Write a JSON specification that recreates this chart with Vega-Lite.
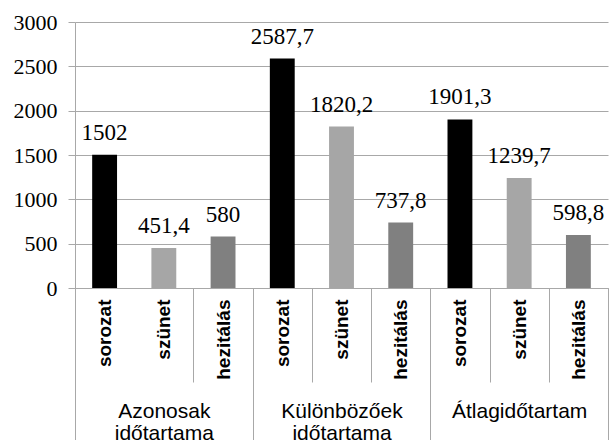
{
  "$schema": "https://vega.github.io/schema/vega-lite/v6.json",
  "width": 533,
  "height": 266,
  "autosize": {"type": "none"},
  "padding": {"left": 75, "top": 22, "right": 2, "bottom": 152},
  "config": {
    "view": {"stroke": null},
    "locale": {"number": {"decimal": ",", "thousands": "", "grouping": [3], "currency": ["", ""]}}
  },
  "data": {
    "values": [
      {"group": "Azonosak időtartama", "sub": "sorozat", "key": "Azonosak időtartama|sorozat", "value": 1502},
      {"group": "Azonosak időtartama", "sub": "szünet", "key": "Azonosak időtartama|szünet", "value": 451.4},
      {"group": "Azonosak időtartama", "sub": "hezitálás", "key": "Azonosak időtartama|hezitálás", "value": 580},
      {"group": "Különbözőek időtartama", "sub": "sorozat", "key": "Különbözőek időtartama|sorozat", "value": 2587.7},
      {"group": "Különbözőek időtartama", "sub": "szünet", "key": "Különbözőek időtartama|szünet", "value": 1820.2},
      {"group": "Különbözőek időtartama", "sub": "hezitálás", "key": "Különbözőek időtartama|hezitálás", "value": 737.8},
      {"group": "Átlagidőtartam", "sub": "sorozat", "key": "Átlagidőtartam|sorozat", "value": 1901.3},
      {"group": "Átlagidőtartam", "sub": "szünet", "key": "Átlagidőtartam|szünet", "value": 1239.7},
      {"group": "Átlagidőtartam", "sub": "hezitálás", "key": "Átlagidőtartam|hezitálás", "value": 598.8}
    ]
  },
  "layer": [
    {
      "encoding": {
        "x": {
          "field": "key", "type": "nominal", "sort": null,
          "scale": {"paddingInner": 0, "paddingOuter": 0},
          "axis": {
            "title": null, "orient": "bottom", "tickBand": "extent", "tickSize": 94,
            "tickColor": "#a8a8a8", "domainColor": "#a8a8a8", "grid": false,
            "tickOpacity": {"condition": {"test": "datum.value === 'Azonosak időtartama|sorozat'", "value": 0}, "value": 1},
            "labelAngle": -90, "labelAlign": "right", "labelBaseline": "middle",
            "labelPadding": -83, "labelExpr": "split(datum.label, '|')[1]",
            "labelFont": "Arial, 'Liberation Sans', sans-serif", "labelFontSize": 19, "labelFontWeight": "bold", "labelColor": "#000000",
            "labelOverlap": false, "labelBound": false, "labelFlush": false
          }
        },
        "y": {
          "field": "value", "type": "quantitative",
          "scale": {"domain": [0, 3000], "nice": false},
          "axis": {
            "title": null, "values": [0, 500, 1000, 1500, 2000, 2500, 3000], "format": "d",
            "labelFont": "'Times New Roman', 'Liberation Serif', serif", "labelFontSize": 22, "labelColor": "#000000",
            "tickSize": 7, "labelPadding": 11, "tickColor": "#a8a8a8",
            "gridColor": "#a8a8a8", "domainColor": "#a8a8a8", "grid": true
          }
        }
      },
      "layer": [
        {
          "mark": {"type": "bar", "width": {"band": 0.42}},
          "encoding": {
            "color": {
              "field": "sub", "type": "nominal", "legend": null,
              "scale": {"domain": ["sorozat", "szünet", "hezitálás"], "range": ["#000000", "#a6a6a6", "#808080"]}
            }
          }
        },
        {
          "mark": {"type": "text", "baseline": "alphabetic", "dy": -15, "font": "'Times New Roman', 'Liberation Serif', serif", "fontSize": 23, "color": "#000000"},
          "encoding": {
            "text": {"field": "value", "type": "quantitative", "format": ".1~f"}
          }
        }
      ]
    },
    {
      "mark": {"type": "rule", "opacity": 0},
      "encoding": {
        "x": {
          "field": "group", "type": "nominal", "sort": null,
          "scale": {"paddingInner": 0, "paddingOuter": 0},
          "axis": {
            "title": null, "orient": "bottom", "tickBand": "extent", "tickSize": 152,
            "tickColor": "#a8a8a8", "domain": false, "grid": false,
            "labelAngle": 0, "labelAlign": "center", "labelBaseline": "top",
            "labelPadding": -40, "labelExpr": "split(datum.label, ' ')",
            "labelFont": "Arial, 'Liberation Sans', sans-serif", "labelFontSize": 21, "labelLineHeight": 22,
            "labelColor": "#000000", "labelOverlap": false, "labelBound": false, "labelFlush": false
          }
        }
      }
    }
  ],
  "resolve": {"scale": {"x": "independent"}}
}
